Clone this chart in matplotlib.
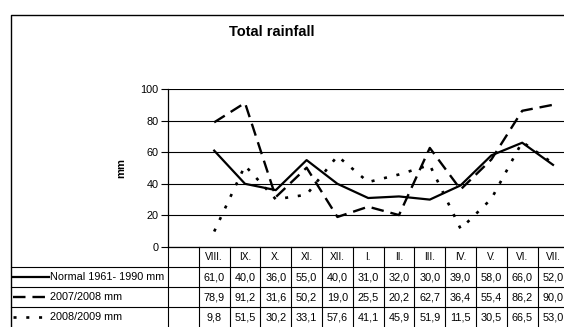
import matplotlib.pyplot as plt

plt.rcParams['font.family'] = ['Liberation Sans', 'DejaVu Sans']
plt.rcParams['lines.scale_dashes'] = False

months = ['VIII.', 'IX.', 'X.', 'XI.', 'XII.', 'I.', 'II.', 'III.', 'IV.', 'V.', 'VI.', 'VII.']
normal = [61.0, 40.0, 36.0, 55.0, 40.0, 31.0, 32.0, 30.0, 39.0, 58.0, 66.0, 52.0]
y2007 = [78.9, 91.2, 31.6, 50.2, 19.0, 25.5, 20.2, 62.7, 36.4, 55.4, 86.2, 90.0]
y2008 = [9.8, 51.5, 30.2, 33.1, 57.6, 41.1, 45.9, 51.9, 11.5, 30.5, 66.5, 53.0]
names = ['Normal 1961- 1990 mm', '2007/2008 mm', '2008/2009 mm']
yticks = [0, 20, 40, 60, 80, 100]

W, H = 564, 327
fig = plt.figure(figsize=(W / 100, H / 100), dpi=100)

# plot area in pixel terms; first category slot is an empty column
x0, colw, ncol = 168, 30.8, 13
ybot, ytop = 247, 89
ax = fig.add_axes([x0 / W, (H - ybot) / H, colw * ncol / W, (ybot - ytop) / H])

styles = [
    dict(color='black', lw=1.6, ls='-'),
    dict(color='black', lw=1.7, ls=(0, (9, 5))),
    dict(color='black', lw=1.9, ls=(0, (2.2, 7))),
]
xs = [i + 1.5 for i in range(len(months))]
for vals, st in zip([normal, y2007, y2008], styles):
    ax.plot(xs, vals, **st, zorder=3)

ax.set_xlim(0, ncol)
ax.set_ylim(0, 100)
ax.set_yticks(yticks)
ax.set_xticks([])
ax.grid(axis='y', color='black', lw=0.8)
for s in ['top', 'right']:
    ax.spines[s].set_visible(False)
ax.spines['left'].set_linewidth(0.9)
ax.spines['bottom'].set_linewidth(0.9)
ax.tick_params(axis='y', length=5, width=0.8, labelsize=7.8, pad=2)
ax.set_ylabel('mm', fontsize=8, fontweight='bold', labelpad=10)

fig.text(272 / W, 1 - 32 / H, 'Total rainfall', ha='center', va='center',
         fontsize=10.5, fontweight='bold')

# data table under the chart, drawn on a pixel-coordinate overlay
tab = fig.add_axes([0, 0, 1, 1], zorder=5)
tab.set_xlim(0, W)
tab.set_ylim(H, 0)
tab.axis('off')
tab.patch.set_alpha(0)

# outer chart border
tab.plot([11, 11, W + 5], [H + 5, 15, 15], color='black', lw=1)

rows = [267, 287, 307, 327]
xr = W + 5
for r in rows[:-1]:
    tab.plot([11, xr], [r, r], color='black', lw=0.8)
for k in range(ncol + 1):
    xe = x0 + k * colw
    tab.plot([xe, xe], [ybot, H + 5], color='black', lw=0.8)

for i, m in enumerate(months):
    xc = x0 + (i + 1.5) * colw
    tab.text(xc, 257, m, ha='center', va='center', fontsize=7.3)
    for r, vals in enumerate([normal, y2007, y2008]):
        yc = (rows[r] + rows[r + 1]) / 2
        tab.text(xc, yc, f'{vals[i]:.1f}'.replace('.', ','), ha='center',
                 va='center', fontsize=7.8)

for r, (nm, st) in enumerate(zip(names, styles)):
    yc = (rows[r] + rows[r + 1]) / 2
    tab.plot([13, 49], [yc, yc], **st)
    tab.text(50, yc, nm, ha='left', va='center', fontsize=7.8)

fig.savefig('out.png', dpi=100)
